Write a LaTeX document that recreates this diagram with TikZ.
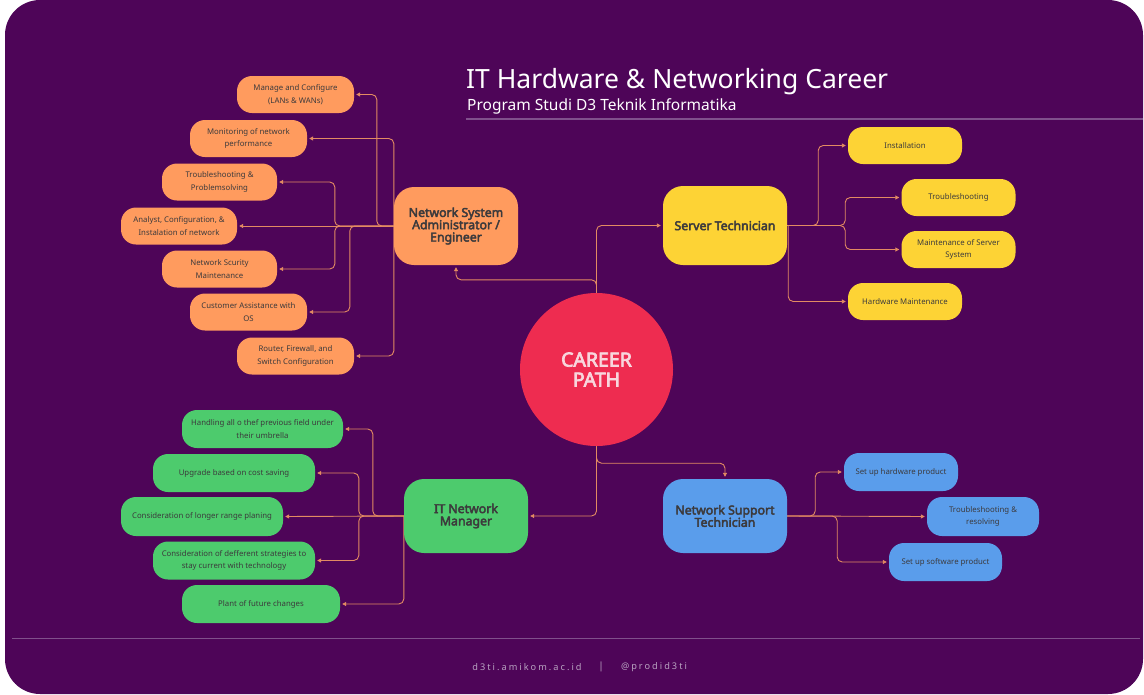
\documentclass[tikz,border=0pt]{standalone}
\usepackage{fontspec}
\setmainfont{Noto Sans}[AutoFakeBold=3.5]
\newfontfamily\footfont[LetterSpace=22]{Noto Sans}
\usetikzlibrary{arrows.meta, positioning, backgrounds}

\definecolor{bgpurple}{HTML}{4E0558}
\definecolor{linkcol}{HTML}{E38B62}
\definecolor{orangebox}{HTML}{FF9B5E}
\definecolor{yellowbox}{HTML}{FDD335}
\definecolor{greenbox}{HTML}{4DCB6D}
\definecolor{bluebox}{HTML}{5A9DEB}
\definecolor{careerred}{HTML}{EE2C50}
\definecolor{careertext}{HTML}{F8D6DD}
\definecolor{boxtext}{HTML}{3C3A3C}
\definecolor{ruleline}{HTML}{80508C}
\definecolor{foottext}{HTML}{B8A2C0}

\begin{document}
\begin{tikzpicture}[
    x=1pt, y=-1pt,
    main/.style={rounded corners=20pt, minimum width=124pt, minimum height=76pt, align=center, inner sep=2pt, text=boxtext, font=\fontsize{12.3}{12.3}\selectfont\bfseries},
    leaf/.style={rounded corners=15pt, minimum width=116pt, minimum height=37pt, align=center, inner sep=2pt, text=boxtext, font=\fontsize{7.8}{12.5}\selectfont},
    link/.style={draw=linkcol, line width=0.9pt, rounded corners=5pt, -{Triangle[length=4pt,width=4pt]}, shorten >=2pt},
    plain text/.style={inner sep=0pt, anchor=base west, text=white}
]

\useasboundingbox (0,0) rectangle (1144,694);

% Background
\begin{scope}[on background layer]
\fill[white] (0,0) rectangle (1144,694);
\fill[bgpurple, rounded corners=35pt] (5,0) rectangle (1143,694);
\end{scope}

% Title
\node[plain text, font=\fontsize{26.5}{27}\selectfont] (title) at (466,88) {IT Hardware \& Networking Career};
\node[plain text, font=\fontsize{15.5}{16}\selectfont] (subtitle) at (467,110) {Program Studi D3 Teknik Informatika};
\draw[ruleline, line width=1.5pt] (466,119) -- (1143,119);

% Center
\node[circle, fill=careerred, minimum size=153pt, text=careertext, align=center, font=\fontsize{19.5}{20}\selectfont\bfseries] (cp) at (596.5,369.5) {CAREER\\PATH};

% Main nodes
\node[main, fill=orangebox, minimum height=78pt] (NSA) at (456,226) {Network System\\Administrator /\\Engineer};
\node[main, fill=yellowbox, minimum height=79pt] (ST) at (725,225.5) {Server Technician};
\node[main, fill=greenbox, minimum height=74pt] (ITNM) at (466,516) {IT Network\\Manager};
\node[main, fill=bluebox, minimum height=74pt] (NST) at (725,516) {Network Support\\Technician};

% Network System Administrator
\node[leaf, fill=orangebox, minimum width=117pt] (mc) at (295.5,94.5) {Manage and Configure\\(LANs \& WANs)};
\node[leaf, fill=orangebox, minimum width=117pt] (mon) at (248.5,138.5) {Monitoring of network\\performance};
\node[leaf, fill=orangebox, minimum width=115pt] (trb) at (219.5,182) {Troubleshooting \&\\Problemsolving};
\node[leaf, fill=orangebox] (acfg) at (179,226) {Analyst, Configuration, \&\\Instalation of network};
\node[leaf, fill=orangebox, minimum width=115pt] (sec) at (219.5,269) {Network Scurity\\Maintenance};
\node[leaf, fill=orangebox, minimum width=117pt] (cust) at (248.5,312) {Customer Assistance with\\OS};
\node[leaf, fill=orangebox, minimum width=117pt] (rfs) at (295.5,356) {Router, Firewall, and\\Switch Configuration};

% Server Technician
\node[leaf, fill=yellowbox, minimum width=114pt] (inst) at (905,145.5) {Installation};
\node[leaf, fill=yellowbox, minimum width=114pt] (trs) at (958.5,197.5) {Troubleshooting};
\node[leaf, fill=yellowbox, minimum width=114pt] (mss) at (958.5,249.5) {Maintenance of Server\\System};
\node[leaf, fill=yellowbox, minimum width=114pt] (hwm) at (905,301.5) {Hardware Maintenance};

% Network Support Technician
\node[leaf, fill=bluebox, minimum width=114pt, minimum height=38pt] (shw) at (901,472) {Set up hardware product};
\node[leaf, fill=bluebox, minimum width=112pt, minimum height=39pt] (trr) at (983,516.5) {Troubleshooting \&\\resolving};
\node[leaf, fill=bluebox, minimum width=113pt, minimum height=38pt] (ssw) at (945.5,562) {Set up software product};

% IT Network Manager
\node[leaf, fill=greenbox, minimum width=161pt, minimum height=38pt] (hand) at (262.5,429) {Handling all o thef previous field under\\their umbrella};
\node[leaf, fill=greenbox, minimum width=162pt, minimum height=38pt] (upg) at (234,473) {Upgrade based on cost saving};
\node[leaf, fill=greenbox, minimum width=162pt, minimum height=39pt] (lrp) at (202,516.5) {Consideration of longer range planing};
\node[leaf, fill=greenbox, minimum width=162pt, minimum height=38pt] (dst) at (234,560.5) {Consideration of defferent strategies to\\stay current with technology};
\node[leaf, fill=greenbox, minimum width=158pt, minimum height=38pt] (pfc) at (261,604) {Plant of future changes};

% Connectors
\begin{scope}[on background layer]
\draw[link] (cp.north) |- (ST.west);
\draw[link] (cp.north) -- ++(0,-13) -| (NSA.south);
\draw[link] (cp.south) -- ++(0,17) -| (NST.north);
\draw[link] (cp.south) |- (ITNM.east);

\draw[link] (NSA.west) -- ++(-17,0) |- (mc.east);
\draw[link] (NSA.west) |- (mon.east);
\draw[link] (NSA.west) -- ++(-59,0) |- (trb.east);
\draw[link] (NSA.west) -- (acfg.east);
\draw[link] (NSA.west) -- ++(-59,0) |- (sec.east);
\draw[link] (NSA.west) -- ++(-44,0) |- (cust.east);
\draw[link] (NSA.west) |- (rfs.east);

\draw[link] (ST.east) -- ++(31,0) |- (inst.west);
\draw[link] (ST.east) -- ++(58,0) |- (trs.west);
\draw[link] (ST.east) -- ++(58,0) |- (mss.west);
\draw[link] ([xshift=1pt]ST.east) |- (hwm.west);

\draw[link] (NST.east) -- ++(28,0) |- (shw.west);
\draw[link] (NST.east) -- (trr.west);
\draw[link] (NST.east) -- ++(50,0) |- (ssw.west);

\draw[link] (ITNM.west) -- ++(-31,0) |- (hand.east);
\draw[link] (ITNM.west) -- ++(-45,0) |- (upg.east);
\draw[link] (ITNM.west) -- (lrp.east);
\draw[link] (ITNM.west) -- ++(-45,0) |- (dst.east);
\draw[link] (ITNM.west) |- (pfc.east);
\end{scope}

% Footer
\draw[ruleline, line width=1pt] (12,638) -- (1140,638);
\node[inner sep=0pt, text=foottext, font=\footfont\fontsize{9.2}{10}\selectfont] (web) at (527,667) {d3ti.amikom.ac.id};
\node[inner sep=0pt, text=foottext, font=\fontsize{10}{10}\selectfont] (sep) at (601,667) {|};
\node[inner sep=0pt, text=foottext, font=\footfont\fontsize{9.2}{10}\selectfont] (ig) at (654,667) {@prodid3ti};

\end{tikzpicture}
\end{document}
